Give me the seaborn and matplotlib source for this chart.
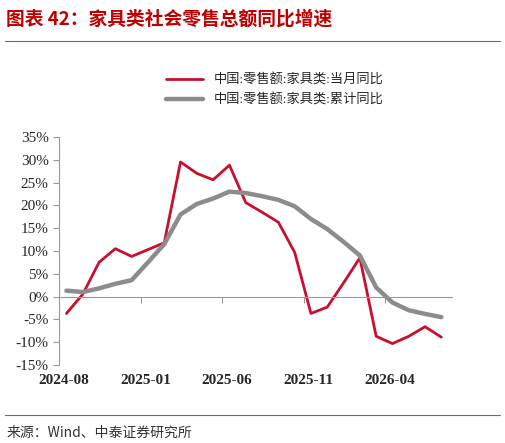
import matplotlib
matplotlib.use("Agg")
import pandas as pd
import seaborn as sns
import matplotlib.pyplot as plt
import matplotlib.transforms as mtransforms

red_vals = [-3.7, 0.5, 7.5, 10.5, 8.8, 10.3, 11.8, 29.5, 27.0, 25.6, 28.8, 20.6,
            18.5, 16.3, 9.7, -3.7, -2.3, 3.0, 8.5, -8.7, -10.3, -8.7, -6.6, -8.9]
grey_vals = [1.3, 1.0, 1.8, 2.8, 3.6, 7.5, 11.5, 18.0, 20.3, 21.5, 23.0, 22.7,
             22.0, 21.2, 19.8, 17.0, 14.8, 12.0, 9.0, 2.0, -1.3, -3.0, -3.8, -4.5]
tick_labels = ["2024-08", "2025-01", "2025-06", "2025-11", "2026-04"]
series_names = ["中国:零售额:家具类:当月同比", "中国:零售额:家具类:累计同比"]

n = len(red_vals)
df = pd.DataFrame({
    "x": [i + 0.45 for i in range(n)] * 2,
    "value": red_vals + grey_vals,
    "series": [series_names[0]] * n + [series_names[1]] * n,
})

sns.set_style("white")
plt.rcParams["font.family"] = ["Liberation Serif", "Noto Sans CJK SC"]

fig = plt.figure(figsize=(5.05, 4.43), dpi=100)
ax = fig.add_axes([0.117, 0.176, 0.778, 0.515])
sns.lineplot(data=df, x="x", y="value", hue="series",
             palette=["#c8102e", "#8c8c8c"], ax=ax, legend=True)
for line, lw in zip(ax.get_lines(), [2.0, 3.2]):
    line.set_linewidth(lw)

ax.set_xlim(0, 24.1)
ax.set_ylim(-15, 35)
ax.set_yticks(range(-15, 36, 5))
ax.set_yticklabels([f"{v}%" for v in range(-15, 36, 5)], fontsize=11)
ax.set_xlabel("")
ax.set_ylabel("")
for s in ["top", "right"]:
    ax.spines[s].set_visible(False)
ax.spines["bottom"].set_position(("data", 0))
ax.spines["bottom"].set_color("#999999")
ax.spines["left"].set_color("#999999")
ax.tick_params(axis="y", left=True, length=4, color="#999999")
ax.tick_params(axis="x", bottom=True, length=4, direction="out", color="#999999")
ticks = [0, 5, 10, 15, 20]
ax.set_xticks(ticks)
ax.set_xticklabels([])
trans = mtransforms.blended_transform_factory(ax.transData, ax.transAxes)
for t, lab in zip(ticks, tick_labels):
    ax.text(t + 0.3, -0.04, lab, transform=trans, ha="center", va="top",
            fontsize=11, fontweight="bold")

handles, labels = ax.get_legend_handles_labels()
leg = ax.legend(handles, labels, loc="upper center", bbox_to_anchor=(0.55, 1.33),
                frameon=False, fontsize=9.5, handlelength=2.8, labelspacing=0.5)
for h, lw in zip(leg.legend_handles, [2.0, 3.2]):
    h.set_linewidth(lw)

fig.text(0.012, 0.945, "图表 42：家具类社会零售总额同比增速", color="#c00000",
         fontsize=13.5, fontweight="bold", style="italic",
         family=["Noto Sans CJK SC", "DejaVu Sans"])
fig.add_artist(plt.Line2D([0.01, 0.99], [0.908, 0.908], color="#d04040", lw=0.8))
fig.add_artist(plt.Line2D([0.01, 0.99], [0.063, 0.063], color="#d04040", lw=0.8))
fig.text(0.012, 0.015, "来源：Wind、中泰证券研究所", color="#333333", fontsize=10,
         family=["Noto Sans CJK SC", "DejaVu Sans"])

fig.savefig("out.png", dpi=100)
